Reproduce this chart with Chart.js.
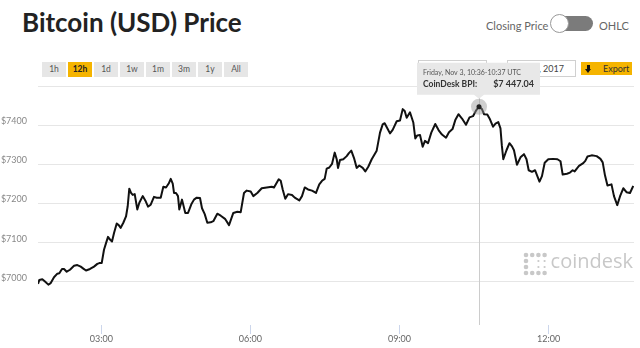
<!DOCTYPE html>
<html lang="en">
<head>
<meta charset="utf-8">
<title>Bitcoin (USD) Price</title>
<script src="https://cdn.jsdelivr.net/npm/chart.js@4"></script>
<style>
  body { margin: 0; background: #fff; font-family: Lato, "Open Sans", sans-serif; }
  .wrap { position: relative; width: 640px; height: 348px; overflow: hidden; }
  h1 { position: absolute; left: 22px; top: 9px; margin: 0; font: 700 26px/26px Lato, sans-serif; color: #222; white-space: nowrap; }
  .ranges { position: absolute; left: 42px; top: 62px; display: flex; }
  .ranges span { width: 24px; height: 15px; margin-right: 2px; background: #e6e6e6; color: #555;
    font-size: 8.5px; line-height: 15px; text-align: center; }
  .ranges span.on { background: #f5b400; color: #222; font-weight: 700; }
  .lbl { position: absolute; top: 20px; font-size: 11px; line-height: 11px; color: #666; white-space: nowrap; }
  .pill { position: absolute; left: 553px; top: 16px; width: 40px; height: 15px; border-radius: 8px; background: #7b7b7b; }
  .knob { position: absolute; left: 550px; top: 14px; width: 19px; height: 19px; border-radius: 50%;
    background: #fff; border: 1px solid #999; box-sizing: border-box; }
  .date { position: absolute; top: 60px; width: 69px; height: 17px; border: 1px solid #d0d0d0; box-sizing: border-box;
    font-size: 9px; line-height: 15px; color: #444; padding-left: 7px; white-space: nowrap; }
  .export { position: absolute; left: 581px; top: 62px; width: 51px; height: 13px; background: #f5b400; }
  .export .stem { position: absolute; left: 6px; top: 3px; width: 3px; height: 4px; background: #111; }
  .export .head { position: absolute; left: 4px; top: 7px; width: 0; height: 0;
    border-left: 3.5px solid transparent; border-right: 3.5px solid transparent; border-top: 4px solid #111; }
  .export .txt { position: absolute; left: 22px; top: 0; font-size: 9px; line-height: 13px; color: #333; }
  canvas { position: absolute; left: 0; top: 0; z-index: 2; }
</style>
</head>
<body>
<div class="wrap">
  <h1>Bitcoin (USD) Price</h1>
  <div class="ranges" id="ranges"></div>
  <span class="lbl" style="left:486px">Closing Price</span>
  <div class="pill"></div>
  <div class="knob"></div>
  <span class="lbl" style="left:599px">OHLC</span>
  <div class="date" style="left:418px">Nov 2, 2017</div>
  <div class="date" style="left:507px">Nov 3, 2017</div>
  <div class="export"><span class="stem"></span><span class="head"></span><span class="txt">Export</span></div>
  <canvas id="chart" width="640" height="348"></canvas>
</div>
<script>
// hours of the day (UTC), Nov 3 2017
var hours = [
  1.726, 1.753, 1.813, 1.867, 1.934, 1.982, 2.048, 2.115, 2.155, 2.209, 2.250, 2.304, 2.370, 2.451,
  2.517, 2.586, 2.638, 2.692, 2.773, 2.853, 2.920, 2.960, 3.008, 3.054, 3.095, 3.135, 3.175, 3.215,
  3.256, 3.310, 3.350, 3.390, 3.443, 3.497, 3.531, 3.563, 3.598, 3.632, 3.672, 3.724, 3.765, 3.833,
  3.885, 3.940, 3.994, 4.060, 4.115, 4.195, 4.248, 4.302, 4.356, 4.397, 4.437, 4.463, 4.503, 4.543,
  4.569, 4.624, 4.690, 4.745, 4.811, 4.865, 4.920, 4.986, 5.026, 5.081, 5.133, 5.201, 5.254, 5.334,
  5.403, 5.489, 5.570, 5.656, 5.737, 5.805, 5.871, 5.926, 6.006, 6.058, 6.139, 6.228, 6.328, 6.429,
  6.475, 6.570, 6.610, 6.650, 6.702, 6.757, 6.837, 6.892, 6.984, 7.038, 7.093, 7.159, 7.240, 7.320,
  7.386, 7.441, 7.495, 7.535, 7.588, 7.642, 7.696, 7.737, 7.763, 7.803, 7.869, 7.938, 7.978, 8.030,
  8.085, 8.139, 8.191, 8.260, 8.312, 8.372, 8.441, 8.541, 8.608, 8.662, 8.702, 8.755, 8.809, 8.863,
  8.944, 9.010, 9.065, 9.105, 9.145, 9.211, 9.278, 9.318, 9.358, 9.413, 9.467, 9.513, 9.574, 9.640,
  9.720, 9.789, 9.855, 9.936, 9.996, 10.067, 10.123, 10.187, 10.258, 10.338, 10.409, 10.479, 10.539, 10.6,
  10.660, 10.700, 10.767, 10.821, 10.882, 10.932, 10.988, 11.032, 11.059, 11.089, 11.153, 11.213, 11.264, 11.304,
  11.364, 11.435, 11.505, 11.556, 11.600, 11.666, 11.727, 11.817, 11.867, 11.922, 11.994, 12.089, 12.179, 12.240,
  12.284, 12.370, 12.431, 12.485, 12.525, 12.572, 12.612, 12.698, 12.739, 12.783, 12.867, 12.968, 13.044, 13.089,
  13.135, 13.185, 13.266, 13.316, 13.382, 13.437, 13.503, 13.568, 13.638, 13.704
];
var prices = [
  6995, 7005, 7007, 7001, 6993, 6997, 7012, 7021, 7022, 7033, 7033, 7026, 7031, 7041,
  7043, 7039, 7034, 7029, 7033, 7039, 7046, 7048, 7048, 7082, 7099, 7115, 7108, 7103,
  7125, 7149, 7145, 7138, 7151, 7167, 7193, 7238, 7227, 7222, 7224, 7185, 7202, 7219,
  7208, 7192, 7197, 7217, 7215, 7215, 7243, 7241, 7251, 7263, 7251, 7227, 7227, 7219,
  7185, 7210, 7176, 7176, 7198, 7210, 7215, 7214, 7188, 7173, 7151, 7152, 7155, 7174,
  7169, 7161, 7145, 7176, 7179, 7178, 7227, 7233, 7231, 7219, 7227, 7239, 7241, 7243,
  7241, 7262, 7258, 7236, 7212, 7224, 7222, 7215, 7208, 7219, 7241, 7236, 7233, 7227,
  7249, 7258, 7263, 7289, 7292, 7301, 7330, 7313, 7291, 7311, 7313, 7321, 7328, 7335,
  7316, 7291, 7297, 7291, 7282, 7294, 7313, 7335, 7381, 7402, 7405, 7392, 7379, 7388,
  7410, 7412, 7441, 7436, 7419, 7433, 7407, 7366, 7374, 7375, 7345, 7360, 7354, 7381,
  7403, 7387, 7376, 7368, 7382, 7390, 7413, 7428, 7417, 7401, 7420, 7423, 7437, 7447.04,
  7441, 7428, 7427, 7415, 7396, 7404, 7408, 7392, 7349, 7313, 7336, 7354, 7346, 7336,
  7299, 7318, 7326, 7313, 7285, 7281, 7285, 7256, 7270, 7304, 7313, 7314, 7313, 7308,
  7274, 7276, 7279, 7285, 7282, 7290, 7296, 7303, 7309, 7320, 7323, 7321, 7314, 7305,
  7272, 7246, 7249, 7219, 7196, 7218, 7239, 7229, 7227, 7245
];
var yTicks = [7000, 7100, 7200, 7300, 7400, 7500];
var xTicks = [3, 6, 9, 12];
var xTickLabels = ['03:00', '06:00', '09:00', '12:00'];
var ranges = ['1h', '12h', '1d', '1w', '1m', '3m', '1y', 'All'];
var activeRange = '12h';
var hoverHour = 10.6;
var hoverTitle = 'Friday, Nov 3, 10:36-10:37 UTC';
var seriesName = 'CoinDesk BPI';

ranges.forEach(function (r) {
  var s = document.createElement('span');
  s.textContent = r;
  if (r === activeRange) s.className = 'on';
  document.getElementById('ranges').appendChild(s);
});

var hoverIndex = hours.indexOf(hoverHour);

function money(v) {
  return '$' + v.toFixed(2).replace(/\B(?=(\d{3})+(?!\d))/g, ' ');
}

var overlay = {
  id: 'overlay',
  beforeDatasetsDraw: function (chart) {
    var ctx = chart.ctx, area = chart.chartArea;
    var px = Math.round(chart.scales.x.getPixelForValue(hours[hoverIndex])) + 0.5;
    ctx.save();
    // crosshair
    ctx.strokeStyle = '#cccccc';
    ctx.lineWidth = 1;
    ctx.beginPath();
    ctx.moveTo(px, area.top);
    ctx.lineTo(px, area.bottom);
    ctx.stroke();
    // coindesk watermark
    ctx.fillStyle = '#c8c8c8';
    var ix = area.right - 108, iy = area.bottom - 70;
    var big = [[0,0],[1,0],[2,0],[3,0],[0,1],[0,2],[0,3],[1,3],[2,3],[3,3]];
    var small = [[2,1],[2,2],[3,1],[3,2]];
    big.forEach(function (d) {
      ctx.beginPath(); ctx.arc(ix + d[0] * 6.2, iy + d[1] * 6, 2.3, 0, Math.PI * 2); ctx.fill();
    });
    small.forEach(function (d) {
      ctx.beginPath(); ctx.arc(ix + d[0] * 6.2, iy + d[1] * 6, 1.1, 0, Math.PI * 2); ctx.fill();
    });
    ctx.font = '20px "Open Sans"';
    ctx.textAlign = 'right';
    ctx.textBaseline = 'alphabetic';
    ctx.fillText('coindesk', area.right - 1, area.bottom - 57);
    ctx.restore();
  },
  afterDatasetsDraw: function (chart) {
    var ctx = chart.ctx;
    var px = chart.scales.x.getPixelForValue(hours[hoverIndex]);
    var py = chart.scales.y.getPixelForValue(prices[hoverIndex]);
    ctx.save();
    ctx.fillStyle = 'rgba(150,150,150,0.45)';
    ctx.beginPath(); ctx.arc(px, py, 8, 0, Math.PI * 2); ctx.fill();
    ctx.fillStyle = '#222';
    ctx.beginPath(); ctx.arc(px, py, 2.5, 0, Math.PI * 2); ctx.fill();
    ctx.restore();
  },
  afterDraw: function (chart) {
    var ctx = chart.ctx;
    var px = chart.scales.x.getPixelForValue(hours[hoverIndex]);
    var py = chart.scales.y.getPixelForValue(prices[hoverIndex]);
    var bw = 123, bh = 32, bx = px - 62, by = py - 44;
    ctx.save();
    ctx.fillStyle = '#e8e8e8';
    ctx.beginPath();
    ctx.moveTo(bx, by);
    ctx.lineTo(bx + bw, by);
    ctx.lineTo(bx + bw, by + bh);
    ctx.lineTo(px + 5, by + bh);
    ctx.lineTo(px, by + bh + 4);
    ctx.lineTo(px - 5, by + bh);
    ctx.lineTo(bx, by + bh);
    ctx.closePath();
    ctx.fill();
    ctx.textBaseline = 'alphabetic';
    ctx.textAlign = 'left';
    ctx.fillStyle = '#555';
    ctx.font = '7px Lato';
    ctx.fillText(hoverTitle, bx + 6, by + 12.5);
    ctx.fillStyle = '#333';
    ctx.font = 'bold 8.5px Lato';
    ctx.fillText(seriesName + ':', bx + 6, by + 24);
    ctx.font = 'bold 9px Lato';
    ctx.textAlign = 'right';
    ctx.fillText(money(prices[hoverIndex]), bx + bw - 6, by + 24);
    ctx.restore();
  }
};

var config = {
  type: 'line',
  data: {
    datasets: [{
      label: seriesName,
      data: hours.map(function (h, i) { return { x: h, y: prices[i] }; }),
      borderColor: '#111',
      borderWidth: 2,
      pointRadius: 0,
      tension: 0,
      fill: false,
      borderJoinStyle: 'round'
    }]
  },
  options: {
    responsive: false,
    animation: false,
    events: [],
    layout: { padding: { top: 86, right: 6, bottom: 0, left: 0 } },
    plugins: { legend: { display: false }, tooltip: { enabled: false } },
    scales: {
      x: {
        type: 'linear',
        min: 1.726,
        max: 13.719,
        afterFit: function (scale) { scale.height = 23; },
        afterBuildTicks: function (scale) {
          scale.ticks = xTicks.map(function (v) { return { value: v }; });
        },
        grid: { drawOnChartArea: false, drawTicks: true, tickLength: 9, tickColor: '#ccd6eb', tickWidth: 1 },
        border: { display: false },
        ticks: {
          padding: 0,
          color: '#666',
          font: { family: 'Lato', size: 9 },
          maxRotation: 0,
          autoSkip: false,
          callback: function (v) { return xTickLabels[xTicks.indexOf(v)]; }
        }
      },
      y: {
        min: 6890,
        max: 7500,
        afterFit: function (scale) { scale.width = 38; },
        afterBuildTicks: function (scale) {
          scale.ticks = yTicks.map(function (v) { return { value: v }; });
        },
        grid: { color: '#e6e6e6', drawTicks: false, lineWidth: 1 },
        border: { display: false },
        ticks: {
          padding: 11,
          labelOffset: -4,
          color: '#888',
          font: { family: 'Lato', size: 9 },
          callback: function (v) { return v === 7500 ? '' : '$' + v; }
        }
      }
    }
  },
  plugins: [overlay]
};

window.myChart = new Chart(document.getElementById('chart').getContext('2d'), config);
</script>
</body>
</html>
